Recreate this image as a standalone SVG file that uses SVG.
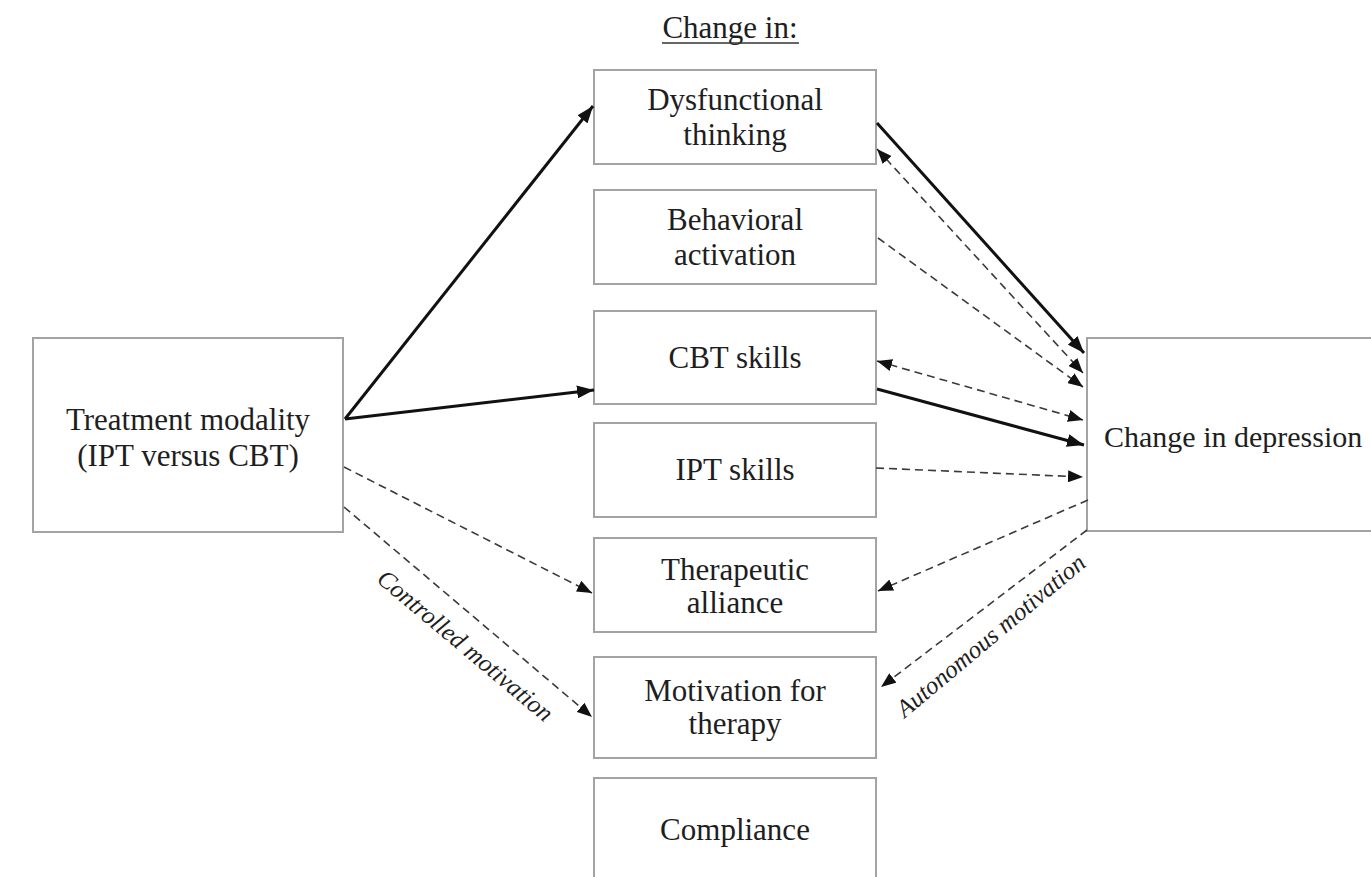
<svg xmlns="http://www.w3.org/2000/svg" width="1371" height="877" viewBox="0 0 1371 877">
  <style>
    .box { fill: #ffffff; stroke: #a3a3a3; stroke-width: 2; }
    .lbl { font-family: "Liberation Serif", "Times New Roman", serif; font-size: 31px; fill: #1e1e1e; text-anchor: middle; }
    .path-label { font-family: "Liberation Serif", "Times New Roman", serif; font-size: 25px; font-style: italic; fill: #1e1e1e; text-anchor: middle; }
    .solid { fill: none; stroke: #111111; stroke-width: 3; }
    .dashed { fill: none; stroke: #3a3a3a; stroke-width: 1.6; stroke-dasharray: 8 5; }
  </style>
  <defs>
    <marker id="head" viewBox="0 0 17 13" refX="17" refY="6.5" markerWidth="17" markerHeight="13" markerUnits="userSpaceOnUse" orient="auto-start-reverse">
      <path d="M0,0 L17,6.5 L0,13 z" fill="#111111"/>
    </marker>
    <marker id="head-sm" viewBox="0 0 15 12" refX="15" refY="6" markerWidth="15" markerHeight="12" markerUnits="userSpaceOnUse" orient="auto-start-reverse">
      <path d="M0,0 L15,6 L0,12 z" fill="#111111"/>
    </marker>
  </defs>

  <rect width="1371" height="877" fill="#ffffff"/>

  <!-- column heading -->
  <g id="heading">
    <text class="lbl" x="730" y="38">Change in:</text>
    <line x1="662" y1="43" x2="799" y2="43" stroke="#333333" stroke-width="1.5"/>
  </g>

  <!-- predictor -->
  <g id="treatment">
    <rect class="box" x="33" y="338" width="310" height="194"/>
    <text class="lbl" x="188" y="430">Treatment modality</text>
    <text class="lbl" x="188" y="466">(IPT versus CBT)</text>
  </g>

  <!-- mediators -->
  <g id="dysfunctional">
    <rect class="box" x="594" y="70" width="282" height="94"/>
    <text class="lbl" x="735" y="110">Dysfunctional</text>
    <text class="lbl" x="735" y="145">thinking</text>
  </g>
  <g id="behavioral">
    <rect class="box" x="594" y="190" width="282" height="94"/>
    <text class="lbl" x="735" y="230">Behavioral</text>
    <text class="lbl" x="735" y="265">activation</text>
  </g>
  <g id="cbt-skills">
    <rect class="box" x="594" y="311" width="282" height="93"/>
    <text class="lbl" x="735" y="368">CBT skills</text>
  </g>
  <g id="ipt-skills">
    <rect class="box" x="594" y="423" width="282" height="94"/>
    <text class="lbl" x="735" y="480">IPT skills</text>
  </g>
  <g id="alliance">
    <rect class="box" x="594" y="538" width="282" height="94"/>
    <text class="lbl" x="735" y="580">Therapeutic</text>
    <text class="lbl" x="735" y="613">alliance</text>
  </g>
  <g id="motivation">
    <rect class="box" x="594" y="657" width="282" height="101"/>
    <text class="lbl" x="735" y="701">Motivation for</text>
    <text class="lbl" x="735" y="734">therapy</text>
  </g>
  <g id="compliance">
    <rect class="box" x="594" y="778" width="282" height="120"/>
    <text class="lbl" x="735" y="840">Compliance</text>
  </g>

  <!-- outcome -->
  <g id="depression">
    <rect class="box" x="1087" y="338" width="300" height="193"/>
    <text class="lbl" x="1104" y="447" style="text-anchor:start; font-size:30px">Change in depression</text>
  </g>

  <!-- connectors -->
  <g id="connectors">
    <line class="solid" x1="345" y1="419" x2="593" y2="106" marker-end="url(#head)"/>
    <line class="solid" x1="345" y1="419" x2="594" y2="390" marker-end="url(#head)"/>
    <line class="dashed" x1="344" y1="467" x2="592" y2="593" marker-end="url(#head-sm)"/>
    <line class="dashed" x1="344" y1="507" x2="592" y2="717" marker-end="url(#head-sm)"/>

    <line class="solid" x1="877" y1="123" x2="1084" y2="353" marker-end="url(#head)"/>
    <line class="dashed" x1="877" y1="149" x2="1083" y2="373" marker-start="url(#head-sm)" marker-end="url(#head-sm)"/>
    <line class="dashed" x1="878" y1="238" x2="1083" y2="387" marker-end="url(#head-sm)"/>
    <line class="dashed" x1="877" y1="361" x2="1083" y2="420" marker-start="url(#head-sm)" marker-end="url(#head-sm)"/>
    <line class="solid" x1="877" y1="389" x2="1084" y2="445" marker-end="url(#head)"/>
    <line class="dashed" x1="876" y1="468" x2="1083" y2="477" marker-end="url(#head-sm)"/>
    <line class="dashed" x1="1088" y1="500" x2="878" y2="591" marker-end="url(#head-sm)"/>
    <line class="dashed" x1="1087" y1="530" x2="881" y2="687" marker-end="url(#head-sm)"/>

    <text class="path-label" transform="translate(460,652) rotate(40)">Controlled motivation</text>
    <text class="path-label" transform="translate(996,642) rotate(-40)">Autonomous motivation</text>
  </g>
</svg>
